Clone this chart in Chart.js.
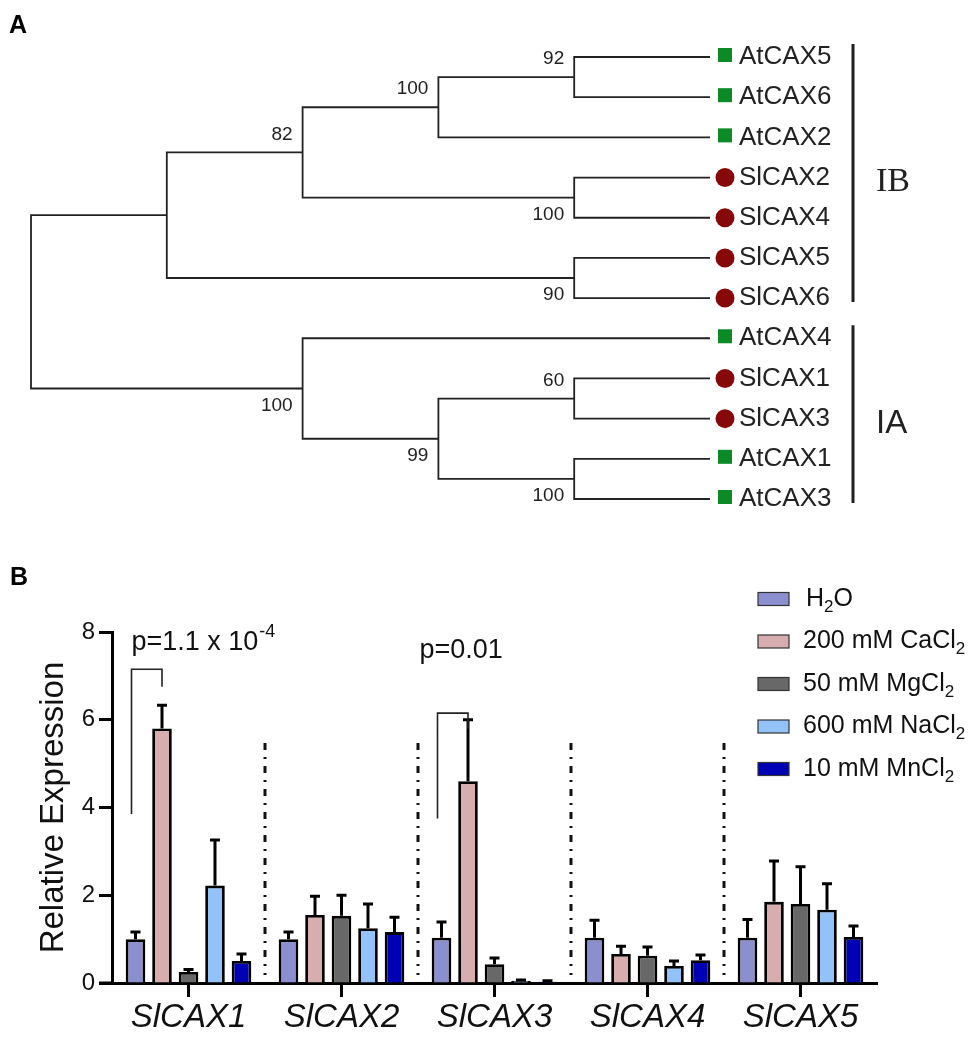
<!DOCTYPE html>
<html>
<head>
<meta charset="utf-8">
<script src="https://cdn.jsdelivr.net/npm/chart.js@4.4.1/dist/chart.umd.min.js"></script>
<style>
  html, body { margin: 0; padding: 0; background: #fff; }
  #wrap { position: relative; width: 975px; height: 1037px; background: #fff; }
  canvas { position: absolute; left: 0; }
  #treeChart { top: 0; }
  #barChart { top: 540px; }
</style>
</head>
<body>
<div id="wrap">
  <canvas id="treeChart" width="975" height="540"></canvas>
  <canvas id="barChart" width="975" height="497"></canvas>
</div>
<script>
(function () {
  "use strict";

  const SANS = '"Liberation Sans", Arial, Helvetica, sans-serif';
  const SERIF = '"Liberation Serif", "Times New Roman", serif';
  Chart.defaults.font.family = SANS;
  Chart.defaults.color = "#111";

  // ---- panel A: tree (leaves top to bottom, internal nodes as depth + children) ----
  const leafNames = ["AtCAX5", "AtCAX6", "AtCAX2", "SlCAX2", "SlCAX4", "SlCAX5", "SlCAX6",
    "AtCAX4", "SlCAX1", "SlCAX3", "AtCAX1", "AtCAX3"];
  const leafSpecies = ["At", "At", "At", "Sl", "Sl", "Sl", "Sl", "At", "Sl", "Sl", "At", "At"];
  const leafDepth = 5;
  const nodeDepth = [4, 3, 4, 2, 4, 1, 4, 4, 3, 2, 0];
  const nodeKids = [["L0", "L1"], ["N0", "L2"], ["L3", "L4"], ["N1", "N2"], ["L5", "L6"],
    ["N3", "N4"], ["L8", "L9"], ["L10", "L11"], ["N6", "N7"], ["L7", "N8"], ["N5", "N9"]];
  const nodeSupport = [92, 100, 100, 82, 90, null, 60, 100, 99, 100, null];
  const cladeNames = ["IB", "IA"];
  const cladeFirst = [0, 7];
  const cladeLast = [6, 11];

  // ---- panel B: expression bars ----
  const genes = ["SlCAX1", "SlCAX2", "SlCAX3", "SlCAX4", "SlCAX5"];
  const treatments = ["H2O", "200 mM CaCl2", "50 mM MgCl2", "600 mM NaCl2", "10 mM MnCl2"];
  const h2o = [1.0, 1.0, 1.03, 1.03, 1.03];
  const cacl2 = [5.8, 1.55, 4.6, 0.66, 1.85];
  const mgcl2 = [0.25, 1.53, 0.43, 0.62, 1.8];
  const nacl2 = [2.22, 1.25, 0.05, 0.39, 1.67];
  const mncl2 = [0.5, 1.16, 0.03, 0.52, 1.05];
  const h2oSd = [0.16, 0.16, 0.36, 0.4, 0.42];
  const cacl2Sd = [0.53, 0.43, 1.4, 0.18, 0.93];
  const mgcl2Sd = [0.06, 0.47, 0.14, 0.2, 0.85];
  const nacl2Sd = [1.04, 0.55, 0.02, 0.11, 0.59];
  const mncl2Sd = [0.16, 0.34, 0.02, 0.12, 0.25];
  const yTicks = [0, 2, 4, 6, 8];
  const pGene = [0, 2];
  const pTop = [7.15, 6.15];
  const pLeftEnd = [3.85, 3.75];
  const pRightEnd = [6.75, 5.8];
  const pText = ["p=1.1 x 10", "p=0.01"];
  const pSup = ["-4", ""];
  const pTextY = [7.75, 7.58];
  const pTextShift = [0, -18];

  const barColors = ["#8b8fd0", "#d8adb0", "#686868", "#92c2f7", "#0000b4"];

  // ---------- tree ----------
  function pos(ref) {
    const i = Number(ref.slice(1));
    if (ref[0] === "L") return { x: leafDepth, y: i };
    const a = pos(nodeKids[i][0]);
    const b = pos(nodeKids[i][1]);
    return { x: nodeDepth[i], y: (a.y + b.y) / 2 };
  }

  const treeSets = nodeKids.map((kids, i) => {
    const me = pos("N" + i);
    const a = pos(kids[0]);
    const b = pos(kids[1]);
    return {
      data: [{ x: a.x, y: a.y }, { x: me.x, y: a.y }, { x: me.x, y: b.y }, { x: b.x, y: b.y }],
      showLine: true,
      borderColor: "#222",
      borderWidth: 1.8,
      pointRadius: 0,
      tension: 0,
      clip: false
    };
  });

  const treeDecor = {
    id: "treeDecor",
    afterDatasetsDraw(chart) {
      const ctx = chart.ctx;
      const xs = chart.scales.x;
      const ys = chart.scales.y;
      ctx.save();

      // bootstrap values
      ctx.font = "19px " + SANS;
      ctx.fillStyle = "#222";
      ctx.textAlign = "right";
      ctx.textBaseline = "middle";
      nodeSupport.forEach((s, i) => {
        if (s === null) return;
        const me = pos("N" + i);
        const upper = nodeKids.some((k) => k[0] === "N" + i);
        const px = xs.getPixelForValue(me.x) - 10;
        const py = ys.getPixelForValue(me.y) + (upper ? -18 : 17);
        ctx.fillText(String(s), px, py);
      });

      // leaf markers and names
      const endX = xs.getPixelForValue(leafDepth);
      leafNames.forEach((name, i) => {
        const py = ys.getPixelForValue(i);
        if (leafSpecies[i] === "At") {
          ctx.fillStyle = "#0b8a26";
          ctx.fillRect(endX + 8, py - 9, 14, 14);
        } else {
          ctx.fillStyle = "#860808";
          ctx.beginPath();
          ctx.arc(endX + 15, py, 9.5, 0, Math.PI * 2);
          ctx.fill();
        }
        ctx.fillStyle = "#222";
        ctx.textAlign = "left";
        ctx.font = "26px " + SANS;
        ctx.fillText(name, endX + 29, py);
      });

      // clade bars
      cladeNames.forEach((c, i) => {
        const y1 = ys.getPixelForValue(cladeFirst[i]) - 13;
        const y2 = ys.getPixelForValue(cladeLast[i]) + 4;
        ctx.strokeStyle = "#231f1f";
        ctx.lineWidth = 3;
        ctx.beginPath();
        ctx.moveTo(endX + 143, y1);
        ctx.lineTo(endX + 143, y2);
        ctx.stroke();
        ctx.fillStyle = "#222";
        ctx.font = (c === "IB" ? "34px " + SERIF : "33px " + SANS);
        ctx.textAlign = "left";
        ctx.fillText(c, endX + 166, ys.getPixelForValue((cladeFirst[i] + cladeLast[i]) / 2) + 5);
      });

      // panel letter
      ctx.fillStyle = "#000";
      ctx.font = "bold 25px " + SANS;
      ctx.textAlign = "left";
      ctx.fillText("A", 9, 26);
      ctx.restore();
    }
  };

  new Chart(document.getElementById("treeChart"), {
    type: "scatter",
    data: { datasets: treeSets },
    options: {
      responsive: false,
      animation: false,
      layout: { padding: { left: 31, right: 265, top: 57, bottom: 41 } },
      plugins: { legend: { display: false }, tooltip: { enabled: false } },
      scales: {
        x: { type: "linear", display: false, min: 0, max: leafDepth },
        y: { type: "linear", display: false, min: 0, max: leafNames.length - 1, reverse: true }
      }
    },
    plugins: [treeDecor]
  });

  // ---------- bars ----------
  const seriesValues = [h2o, cacl2, mgcl2, nacl2, mncl2];
  const seriesSd = [h2oSd, cacl2Sd, mgcl2Sd, nacl2Sd, mncl2Sd];

  // draws text where a "2" right after a letter becomes a subscript
  function drawChem(ctx, text, x, y, size) {
    let cx = x;
    for (let i = 0; i < text.length; i++) {
      const ch = text[i];
      const sub = ch === "2" && i > 0 && /[A-Za-z]/.test(text[i - 1]);
      ctx.font = (sub ? Math.round(size * 0.68) : size) + "px " + SANS;
      ctx.fillText(ch, cx, sub ? y + size * 0.32 : y);
      cx += ctx.measureText(ch).width;
    }
  }

  const barDecor = {
    id: "barDecor",
    beforeDatasetsDraw(chart) {
      const ctx = chart.ctx;
      const xs = chart.scales.x;
      const ys = chart.scales.y;
      ctx.save();
      // dash-dot separators between genes
      ctx.strokeStyle = "#111";
      ctx.lineWidth = 3;
      ctx.setLineDash([7, 7, 2, 7]);
      for (let k = 0; k < genes.length - 1; k++) {
        const x = (xs.getPixelForTick(k) + xs.getPixelForTick(k + 1)) / 2;
        ctx.beginPath();
        ctx.moveTo(x, ys.getPixelForValue(5.47));
        ctx.lineTo(x, ys.getPixelForValue(0.18));
        ctx.stroke();
      }
      ctx.setLineDash([]);
      // x axis running a bit past the y axis
      ctx.lineWidth = 3;
      ctx.strokeStyle = "#000";
      ctx.beginPath();
      ctx.moveTo(chart.chartArea.left - 13, ys.getPixelForValue(0));
      ctx.lineTo(chart.chartArea.left, ys.getPixelForValue(0));
      ctx.stroke();
      ctx.restore();
    },
    afterDatasetsDraw(chart) {
      const ctx = chart.ctx;
      const ys = chart.scales.y;
      ctx.save();

      // error bars (upper only)
      ctx.strokeStyle = "#000";
      ctx.lineWidth = 3;
      seriesValues.forEach((vals, s) => {
        const meta = chart.getDatasetMeta(s);
        vals.forEach((v, j) => {
          const bar = meta.data[j];
          const top = ys.getPixelForValue(v + seriesSd[s][j]);
          ctx.beginPath();
          ctx.moveTo(bar.x, bar.y);
          ctx.lineTo(bar.x, top);
          ctx.moveTo(bar.x - 5, top);
          ctx.lineTo(bar.x + 5, top);
          ctx.stroke();
        });
      });

      // significance brackets
      ctx.lineWidth = 1.6;
      ctx.strokeStyle = "#222";
      pGene.forEach((g, i) => {
        const xl = chart.getDatasetMeta(0).data[g].x - 4;
        const xr = chart.getDatasetMeta(1).data[g].x;
        ctx.beginPath();
        ctx.moveTo(xl, ys.getPixelForValue(pLeftEnd[i]));
        ctx.lineTo(xl, ys.getPixelForValue(pTop[i]));
        ctx.lineTo(xr, ys.getPixelForValue(pTop[i]));
        ctx.lineTo(xr, ys.getPixelForValue(pRightEnd[i]));
        ctx.stroke();

        const tx = xl + pTextShift[i];
        const ty = ys.getPixelForValue(pTextY[i]);
        ctx.fillStyle = "#111";
        ctx.textAlign = "left";
        ctx.textBaseline = "middle";
        ctx.font = "27px " + SANS;
        ctx.fillText(pText[i], tx, ty);
        if (pSup[i]) {
          const w = ctx.measureText(pText[i]).width;
          ctx.font = "18px " + SANS;
          ctx.fillText(pSup[i], tx + w + 1, ty - 11);
        }
      });

      // legend
      ctx.textBaseline = "middle";
      ctx.textAlign = "left";
      treatments.forEach((t, i) => {
        const y = 59 + i * 42.5;
        ctx.fillStyle = barColors[i];
        ctx.fillRect(758, y - 6.5, 31, 13);
        ctx.lineWidth = 1.2;
        ctx.strokeStyle = "#333";
        ctx.strokeRect(758, y - 6.5, 31, 13);
        ctx.fillStyle = "#111";
        drawChem(ctx, t, i === 0 ? 806 : 803, y, 25);
      });

      // panel letter
      ctx.fillStyle = "#000";
      ctx.font = "bold 25px " + SANS;
      ctx.fillText("B", 10, 38);
      ctx.restore();
    }
  };

  new Chart(document.getElementById("barChart"), {
    type: "bar",
    data: {
      labels: genes,
      datasets: seriesValues.map((vals, s) => ({
        label: treatments[s],
        data: vals,
        backgroundColor: barColors[s],
        borderColor: "#000",
        borderWidth: 2.8,
        categoryPercentage: 0.866,
        barPercentage: 0.74
      }))
    },
    options: {
      responsive: false,
      animation: false,
      layout: { padding: { left: 0, right: 98, top: 92, bottom: 0 } },
      plugins: { legend: { display: false }, tooltip: { enabled: false } },
      scales: {
        x: {
          grid: { drawOnChartArea: false, offset: false, tickLength: 14, tickWidth: 3, tickColor: "#000" },
          border: { width: 3, color: "#000" },
          ticks: { font: { size: 33, style: "italic" }, color: "#111", padding: 1 },
          afterFit: (s) => { s.height = 54; }
        },
        y: {
          min: 0,
          max: 8,
          afterBuildTicks: (s) => { s.ticks = yTicks.map((v) => ({ value: v })); },
          ticks: { font: { size: 24 }, color: "#111", padding: 4 },
          grid: { drawOnChartArea: false, tickLength: 13, tickWidth: 3, tickColor: "#000" },
          border: { width: 3, color: "#000" },
          title: {
            display: true,
            text: "Relative Expression",
            font: { size: 33 },
            color: "#111",
            padding: { top: 34, bottom: 0 }
          },
          afterFit: (s) => { s.width = 112; }
        }
      }
    },
    plugins: [barDecor]
  });
})();
</script>
</body>
</html>
